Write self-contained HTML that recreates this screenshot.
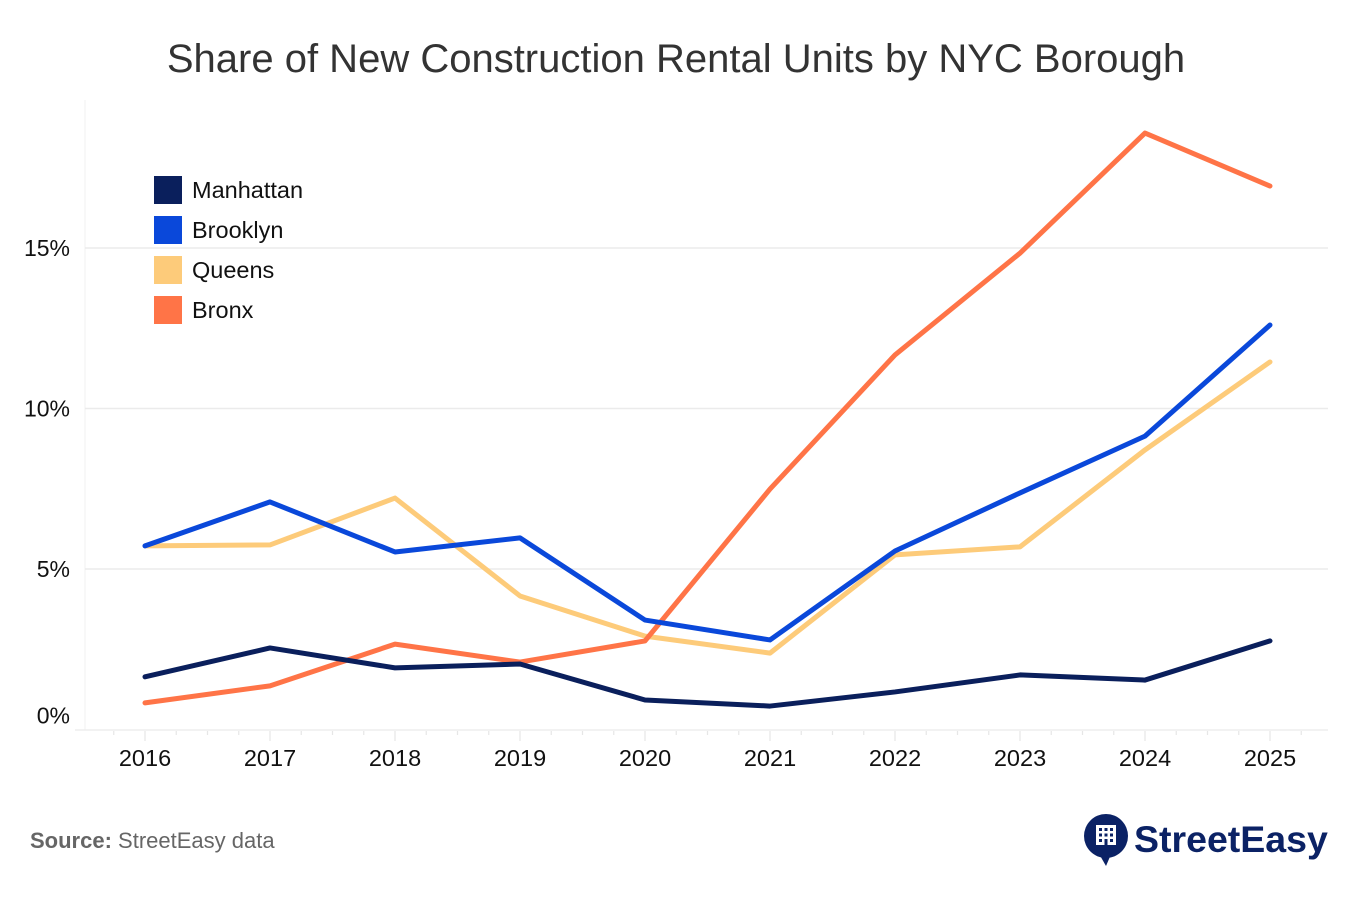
<!DOCTYPE html>
<html><head><meta charset="utf-8">
<style>
html,body{margin:0;padding:0;background:#fff;}
body{width:1352px;height:902px;overflow:hidden;font-family:"Liberation Sans",Arial,sans-serif;}
</style></head>
<body>
<svg id="chart" width="1352" height="902" viewBox="0 0 1352 902" xmlns="http://www.w3.org/2000/svg" font-family="Liberation Sans, Arial, sans-serif">
<text x="676" y="72" text-anchor="middle" font-size="40" fill="#333">Share of New Construction Rental Units by NYC Borough</text>
<g id="grid"></g>
<g id="axes"></g>
<g id="lines"></g>
<g>
  <rect x="154" y="176" width="28" height="28" fill="#0a1f5c"/>
  <text x="192" y="198" font-size="23.5" fill="#111">Manhattan</text>
  <rect x="154" y="216" width="28" height="28" fill="#0a48da"/>
  <text x="192" y="238" font-size="23.5" fill="#111">Brooklyn</text>
  <rect x="154" y="256" width="28" height="28" fill="#fdcb7a"/>
  <text x="192" y="278" font-size="23.5" fill="#111">Queens</text>
  <rect x="154" y="296" width="28" height="28" fill="#ff7447"/>
  <text x="192" y="318" font-size="23.5" fill="#111">Bronx</text>
</g>
<text x="30" y="848" font-size="22" fill="#666"><tspan font-weight="bold">Source:</tspan> StreetEasy data</text>
<g>
  <circle cx="1106" cy="836" r="22" fill="#0b2265"/>
  <polygon points="1098,852 1106,866 1112,852" fill="#0b2265"/>
  <rect x="1096" y="825" width="20" height="20" fill="#fff"/>
  <g fill="#0b2265">
    <rect x="1099" y="828" width="3" height="3"/><rect x="1104.5" y="828" width="3" height="3"/><rect x="1110" y="828" width="3" height="3"/>
    <rect x="1099" y="833.5" width="3" height="3"/><rect x="1104.5" y="833.5" width="3" height="3"/><rect x="1110" y="833.5" width="3" height="3"/>
    <rect x="1099" y="839" width="3" height="3"/><rect x="1104.5" y="839" width="3" height="6"/><rect x="1110" y="839" width="3" height="3"/>
  </g>
  <text x="1134" y="852" font-size="37.5" fill="#0b2265" font-weight="bold">StreetEasy</text>
</g>
</svg>
<script>
const years = [2016,2017,2018,2019,2020,2021,2022,2023,2024,2025];
const manhattan = [1.64,2.54,1.92,2.04,0.92,0.73,1.17,1.70,1.54,2.76];
const brooklyn = [5.72,7.09,5.53,5.97,3.41,2.79,5.56,7.37,9.14,12.6];
const queens = [5.72,5.75,7.21,4.16,2.91,2.38,5.44,5.69,8.71,11.45];
const bronx = [0.83,1.36,2.66,2.10,2.76,7.49,11.67,14.84,18.58,16.93];
const yTicks = [0,5,10,15];
const yTickLabels = ["0%","5%","10%","15%"];

const NS="http://www.w3.org/2000/svg";
function xS(yr){return 145+(yr-2016)*125;}
function yS(v){return 729.5-v*32.1;}
function mk(tag,attrs,parent){const e=document.createElementNS(NS,tag);for(const k in attrs)e.setAttribute(k,attrs[k]);parent.appendChild(e);return e;}
const grid=document.getElementById('grid'),axes=document.getElementById('axes'),lines=document.getElementById('lines');

mk('line',{x1:85,y1:100,x2:85,y2:730,stroke:'#f0f0f0','stroke-width':1},grid);
yTicks.forEach((t,i)=>{
  if(t>0){
    const g=mk('line',{x1:85,x2:1328,y1:yS(t),y2:yS(t),stroke:'#ebebeb','stroke-width':1.5},grid);
    
    
  }
  const lbl=mk('text',{x:70,y:(t===0?yS(t)-6:yS(t)+8),'text-anchor':'end','font-size':23,fill:'#111'},axes);
  lbl.textContent=yTickLabels[i];
  
  
});
const ax=mk('line',{x1:75,x2:1328,y1:730,y2:730,stroke:'#eeeeee','stroke-width':1.5},axes);


for(let q=-1;q<=37;q++){
  const x=145+q*31.25;
  if(x<85||x>1328)continue;
  const major=q%4===0;
  mk('line',{x1:x,x2:x,y1:731,y2:major?741:735,stroke:'#e6e6e6','stroke-width':1.2},axes);
}
years.forEach(yr=>{
  const t=mk('text',{x:xS(yr),y:766,'text-anchor':'middle','font-size':23.5,fill:'#111'},axes);
  t.textContent=yr;
  
  
});

function drawSeries(vals,color,name){
  const d=vals.map((v,i)=>(i?'L':'M')+xS(years[i])+','+yS(v)).join(' ');
  const p=mk('path',{d:d,fill:'none',stroke:color,'stroke-width':5,'stroke-linejoin':'round','stroke-linecap':'round'},lines);
  
  
}
drawSeries(queens,'#fdcb7a','line-queens');
drawSeries(bronx,'#ff7447','line-bronx');
drawSeries(brooklyn,'#0a48da','line-brooklyn');
drawSeries(manhattan,'#0a1f5c','line-manhattan');
</script>
</body></html>
